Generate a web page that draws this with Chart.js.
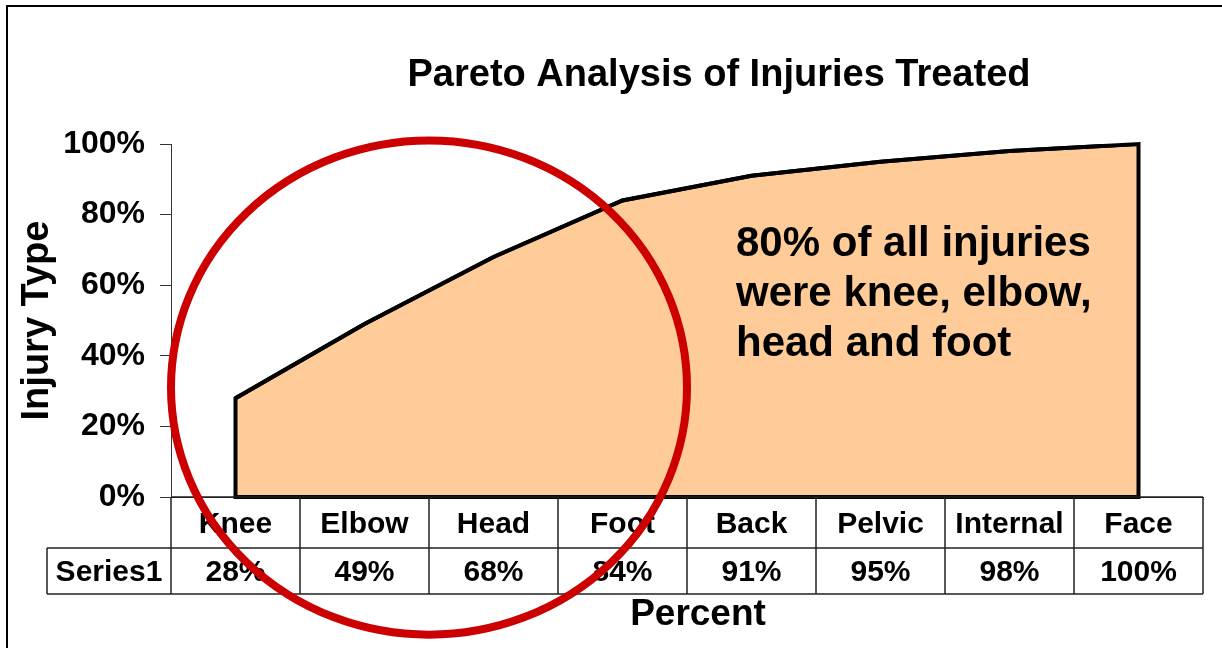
<!DOCTYPE html>
<html>
<head>
<meta charset="utf-8">
<script src="https://cdn.jsdelivr.net/npm/chart.js@4.4.0/dist/chart.umd.min.js"></script>
<style>
  html, body { margin: 0; padding: 0; background: #fff; }
  canvas { display: block; }
</style>
</head>
<body>
<canvas id="pareto" width="1222" height="648"></canvas>
<script>
const categorias = ['Knee', 'Elbow', 'Head', 'Foot', 'Back', 'Pelvic', 'Internal', 'Face'];
const acumulado = [28, 49, 68, 84, 91, 95, 98, 100];
const nomeSerie = 'Series1';
const tituloGrafico = 'Pareto Analysis of Injuries Treated';
const tituloX = 'Percent';
const notaLinhas = ['80% of all injuries', 'were knee, elbow,', 'head and foot'];

const FONTE = '"Liberation Sans", Arial, sans-serif';

const pluginExtras = {
    id: 'extras',
    afterDatasetsDraw(chart) {
        // contorno da area (laterais e base)
        const ctx = chart.ctx;
        const pts = chart.getDatasetMeta(0).data;
        const base = chart.scales.y.getPixelForValue(0);
        ctx.save();
        ctx.strokeStyle = '#000';
        ctx.lineWidth = 4;
        ctx.lineJoin = 'miter';
        ctx.beginPath();
        ctx.moveTo(pts[0].x, base);
        pts.forEach(p => ctx.lineTo(p.x, p.y));
        ctx.lineTo(pts[pts.length - 1].x, base);
        ctx.closePath();
        ctx.stroke();
        ctx.restore();
    },
    afterDraw(chart) {
        const ctx = chart.ctx;
        const x = chart.scales.x;
        const y = chart.scales.y;
        const area = chart.chartArea;
        const larg = x.width / categorias.length;
        const r0 = area.bottom, r1 = r0 + 51, r2 = r1 + 46;
        const esq = 47;

        ctx.save();
        // tabela de dados
        ctx.strokeStyle = '#222';
        ctx.lineWidth = 1.5;
        ctx.beginPath();
        ctx.moveTo(area.left, r0); ctx.lineTo(area.right, r0);
        ctx.moveTo(esq, r1); ctx.lineTo(area.right, r1);
        ctx.moveTo(esq, r2); ctx.lineTo(area.right, r2);
        ctx.moveTo(esq, r1); ctx.lineTo(esq, r2);
        for (let i = 0; i <= categorias.length; i++) {
            const px = x.getPixelForValue(i) - larg / 2;
            ctx.moveTo(px, r0); ctx.lineTo(px, r2);
        }
        ctx.stroke();

        ctx.fillStyle = '#000';
        ctx.font = 'bold 30px ' + FONTE;
        ctx.textAlign = 'center';
        ctx.textBaseline = 'middle';
        categorias.forEach((c, i) => {
            const px = x.getPixelForValue(i);
            ctx.fillText(c, px, (r0 + r1) / 2 + 2);
            ctx.fillText(acumulado[i] + '%', px, (r1 + r2) / 2 + 2);
        });
        ctx.fillText(nomeSerie, (esq + area.left) / 2, (r1 + r2) / 2 + 2);

        // titulos
        ctx.font = 'bold 38px ' + FONTE;
        ctx.fillText(tituloGrafico, 719, 76);
        ctx.font = 'bold 37px ' + FONTE;
        ctx.fillText(tituloX, 698, 615);

        // nota
        ctx.font = 'bold 42px ' + FONTE;
        ctx.textAlign = 'left';
        notaLinhas.forEach((t, i) => ctx.fillText(t, 736, 244 + i * 50));

        // circulo vermelho
        ctx.strokeStyle = '#CC0000';
        ctx.lineWidth = 8;
        ctx.beginPath();
        ctx.ellipse(x.getPixelForValue(1.5), y.getPixelForValue(31),
            larg * 2, y.getPixelForValue(0) - y.getPixelForValue(70), 0, 0, Math.PI * 2);
        ctx.stroke();

        // moldura
        ctx.strokeStyle = '#000';
        ctx.lineWidth = 2;
        ctx.beginPath();
        ctx.moveTo(7, chart.height);
        ctx.lineTo(7, 6);
        ctx.lineTo(chart.width, 6);
        ctx.stroke();
        ctx.restore();
    }
};

new Chart(document.getElementById('pareto'), {
    type: 'line',
    data: {
        labels: categorias,
        datasets: [{
            label: nomeSerie,
            data: acumulado,
            fill: 'origin',
            backgroundColor: '#FFCC99',
            borderColor: '#000',
            borderWidth: 4,
            pointRadius: 0,
            tension: 0
        }]
    },
    options: {
        responsive: false,
        devicePixelRatio: 1,
        animation: false,
        layout: { padding: { top: 144, right: 19, left: 0, bottom: 0 } },
        plugins: {
            legend: { display: false },
            tooltip: { enabled: false },
            title: { display: false }
        },
        scales: {
            x: {
                offset: true,
                ticks: { display: false },
                grid: { display: false },
                border: { display: true, color: '#222', width: 1 },
                afterFit: s => { s.height = 151; }
            },
            y: {
                min: 0,
                max: 100,
                ticks: {
                    stepSize: 20,
                    color: '#000',
                    padding: 15,
                    font: { family: FONTE, size: 32, weight: 'bold' },
                    callback: v => v + '%'
                },
                grid: { drawOnChartArea: false, drawTicks: true, tickLength: 11, color: '#333' },
                border: { display: true, color: '#333', width: 1 },
                title: {
                    display: true,
                    text: 'Injury Type',
                    color: '#000',
                    font: { family: FONTE, size: 38, weight: 'bold' },
                    padding: { top: 15, bottom: 0 }
                },
                afterFit: s => { s.width = 171; }
            }
        }
    },
    plugins: [pluginExtras]
});
</script>
</body>
</html>
